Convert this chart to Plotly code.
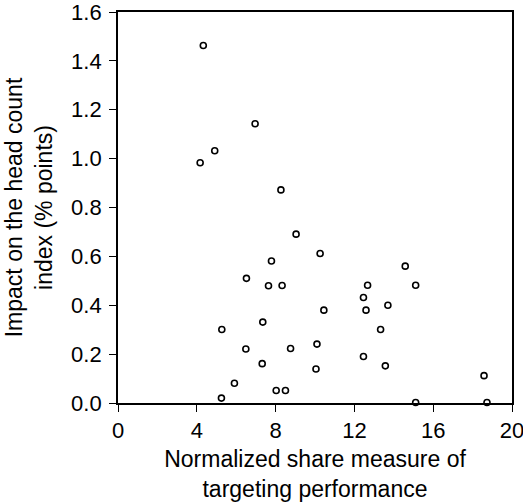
import plotly.graph_objects as go

share_measure = [4.33, 4.17, 4.91, 6.96, 8.27, 9.04, 7.79, 6.52, 7.64, 8.33,
                 10.26, 10.45, 7.35, 5.27, 6.49, 8.76, 7.32, 5.91, 5.25, 8.03,
                 8.50, 10.10, 10.05, 12.46, 12.67, 12.59, 12.46, 13.33, 13.57, 13.70,
                 14.58, 15.11, 15.11, 18.58, 18.73]
impact = [1.463, 0.983, 1.032, 1.143, 0.872, 0.691, 0.581, 0.510, 0.480, 0.481,
          0.612, 0.380, 0.331, 0.301, 0.221, 0.223, 0.161, 0.081, 0.020, 0.051,
          0.051, 0.241, 0.139, 0.432, 0.482, 0.380, 0.190, 0.301, 0.152, 0.400,
          0.560, 0.482, 0.002, 0.112, 0.002]

x_ticks = [0, 4, 8, 12, 16, 20]
y_ticks = [0.0, 0.2, 0.4, 0.6, 0.8, 1.0, 1.2, 1.4, 1.6]

font_family = "Liberation Sans, Arial, sans-serif"

fig = go.Figure()
fig.add_trace(go.Scatter(
    x=share_measure, y=impact, mode="markers",
    marker=dict(symbol="circle-open", size=6, color="black",
                line=dict(width=1.6, color="black")),
    cliponaxis=False, showlegend=False,
))

fig.update_layout(
    width=523, height=502,
    margin=dict(l=118, r=11, t=12, b=99),
    paper_bgcolor="white", plot_bgcolor="white",
    font=dict(family=font_family, size=22, color="black"),
)
fig.update_xaxes(
    range=[0, 20], tickvals=x_ticks, ticktext=[str(v) for v in x_ticks],
    showgrid=False, zeroline=False, showline=True, linecolor="black",
    linewidth=1.8, mirror=True, ticks="outside", ticklen=7, tickwidth=1.3,
    tickcolor="black", tickfont=dict(size=22), automargin=False,
    ticklabeloverflow="allow",
    title=dict(text="Normalized share measure of<br>targeting performance",
               font=dict(size=23), standoff=12),
)
fig.update_yaxes(
    range=[0, 1.6], tickvals=y_ticks, ticktext=[f"{v:.1f}" for v in y_ticks],
    showgrid=False, zeroline=False, showline=True, linecolor="black",
    linewidth=1.8, mirror=True, ticks="outside", ticklen=7, tickwidth=1.3,
    tickcolor="black", tickfont=dict(size=22), ticklabelstandoff=3,
    automargin=False, ticklabeloverflow="allow",
    title=dict(text="Impact on the head count<br>index (% points)",
               font=dict(size=23), standoff=12),
)

fig.write_html("out.html")
